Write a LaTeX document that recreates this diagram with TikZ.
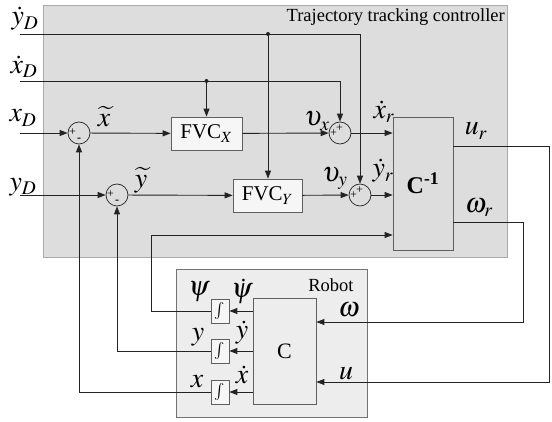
\documentclass[tikz,border=0pt]{standalone}
\usepackage{mathptmx}
\usepackage{graphicx}
\usepackage[no-math]{fontspec}
\setmainfont{Liberation Serif}
\usetikzlibrary{arrows.meta}
\definecolor{panelf}{RGB}{221,221,222}
\definecolor{panelb}{RGB}{170,170,170}
\definecolor{robotf}{RGB}{237,237,237}
\definecolor{robotb}{RGB}{115,115,115}
\definecolor{boxf}{RGB}{246,246,246}
\definecolor{boxb}{RGB}{95,95,95}
\definecolor{linec}{RGB}{35,35,35}
\newcommand{\mlab}[1]{\scalebox{1.12}{$#1$}}
\begin{document}
\begin{tikzpicture}[x=1pt,y=-1pt,
  ln/.style={draw=linec,line width=0.9pt},
  arr/.style={ln,-{Triangle[length=8pt,width=6pt]}},
  sumc/.style={circle,draw=linec,line width=0.7pt,minimum size=22pt,inner sep=0pt},
  blk/.style={rectangle,draw=boxb,line width=0.8pt,fill=boxf,inner sep=0pt},
  intb/.style={blk,minimum width=18pt,minimum height=24pt,font=\fontsize{17}{17}\selectfont},
  lab/.style={inner sep=0pt,font=\fontsize{24.88}{26}\selectfont},
  sgn/.style={inner sep=0pt,font=\fontsize{12}{12}\selectfont},
  dotn/.style={circle,fill=linec,minimum size=4pt,inner sep=0pt},
  ]
\useasboundingbox (0,0) rectangle (552,422);
% panels
\node[rectangle,fill=panelf,draw=panelb,line width=0.8pt,minimum width=464pt,minimum height=252pt] (ctrl) at (275,131) {};
\node[anchor=base east,inner sep=0pt,font=\fontsize{18.5}{20}\selectfont] (ttl) at (505,22) {Trajectory tracking controller};
\node[rectangle,fill=robotf,draw=robotb,line width=0.8pt,minimum width=191pt,minimum height=148pt] (robot) at (271.5,343) {};
\node[anchor=base,inner sep=0pt,font=\fontsize{18.5}{20}\selectfont] (rtl) at (331,292) {Robot};
% summing junctions
\node[sumc] (s1) at (79,133) {};
\node[sumc] (s2) at (117,195) {};
\node[sumc] (s3) at (340,133) {};
\node[sumc] (s4) at (360,195) {};
\node[sgn] at ([shift={(-6.5,-1)}]s1.center) {+};
\node[sgn] at ([shift={(0,7)}]s1.center) {\textbf{-}};
\node[sgn] at ([shift={(-6.5,-1)}]s2.center) {+};
\node[sgn] at ([shift={(0,7)}]s2.center) {\textbf{-}};
\node[sgn] at ([shift={(-6.5,0.5)}]s3.center) {+};
\node[sgn] at ([shift={(-0.5,-5)}]s3.center) {+};
\node[sgn] at ([shift={(-6.5,0.5)}]s4.center) {+};
\node[sgn] at ([shift={(-0.5,-5)}]s4.center) {+};
% blocks
\node[blk,minimum width=71pt,minimum height=33pt,font=\fontsize{21}{22}\selectfont] (fvcx) at (206.5,133.5) {FVC$_X$};
\node[blk,minimum width=69pt,minimum height=33pt,font=\fontsize{21}{22}\selectfont] (fvcy) at (267.5,195.5) {FVC$_Y$};
\node[rectangle,draw=boxb,line width=0.8pt,inner sep=0pt,minimum width=60pt,minimum height=133pt,font=\fontsize{24}{24}\selectfont] (cinv) at (423,183.5) {\textbf{C}\textsuperscript{\textbf{-1}}};
\node[rectangle,draw=boxb,line width=0.8pt,fill=robotf,inner sep=0pt,minimum width=63pt,minimum height=106pt,font=\fontsize{22}{22}\selectfont] (cblk) at (284.5,351) {C};
\node[intb] (ipsi) at (220,311) {$\int$};
\node[intb] (iy) at (220,351) {$\int$};
\node[intb] (ix) at (220,392) {$\int$};
% free ends and branch points
\coordinate (ydS) at (20,34);
\coordinate (xdS) at (20,81);
\coordinate (xS) at (20,133);
\coordinate (yS) at (20,195);
\node[dotn] (d1) at (268,34) {};
\node[dotn] (d2) at (206.5,81) {};
\coordinate (fb) at (151,235);
\coordinate (ur) at (549,146);
\coordinate (uu) at (549,382);
\coordinate (wr) at (523,222);
\coordinate (ww) at (523,322);
% connectors
\draw[arr] (ydS) -| (s4);
\draw[arr] (d1.center) -- (fvcy.north -| d1);
\draw[arr] (xdS) -| (s3);
\draw[arr] (d2.center) -- (fvcx.north);
\draw[arr] (xS) -- (s1);
\draw[arr] (s1) -- (fvcx);
\draw[arr] (fvcx) -- (s3);
\draw[arr] (s3) -- (s3 -| cinv.west);
\draw[arr] (yS) -- (s2);
\draw[arr] (s2) -- (fvcy);
\draw[arr] (fvcy) -- (s4);
\draw[arr] (s4) -- (s4 -| cinv.west);
\draw[arr] (cinv.east |- ur) -- (ur) -- (uu) -- (uu -| cblk.east);
\draw[arr] (cinv.east |- wr) -- (wr) -- (ww) -- (ww -| cblk.east);
\draw[arr] (ipsi.west) -| (fb) -- (fb -| cinv.west);
\draw[arr] (iy.west) -| (s2);
\draw[arr] (ix.west) -| (s1);
\draw[arr] (cblk.west |- ipsi) -- (ipsi.east);
\draw[arr] (cblk.west |- iy) -- (iy.east);
\draw[arr] (cblk.west |- ix) -- (ix.east);
% labels
\node[lab] (lydd) at (25,19) {\mlab{\dot y_D}};
\node[lab] (lxdd) at (24,67) {\mlab{\dot x_D}};
\node[lab] (lxd) at (23,118) {\mlab{x_D}};
\node[lab] (lyd) at (23,187) {\mlab{y_D}};
\node[lab] (lxt) at (104,117) {\mlab{\widetilde{x}}};
\node[lab] (lyt) at (141,180) {\mlab{\widetilde{y}}};
\node[lab] (lvx) at (317,121) {\mlab{\upsilon_x}};
\node[lab] (lxr) at (384,112) {\mlab{\dot x_r}};
\node[lab] (lvy) at (335,178) {\mlab{\upsilon_y}};
\node[lab] (lyr) at (383,171) {\mlab{\dot y_r}};
\node[lab] (lur) at (476,131) {\mlab{u_r}};
\node[lab] (lwr) at (479,208) {\mlab{\omega_r}};
\node[lab] (lpsi) at (199,292) {\mlab{\psi}};
\node[lab] (lpsid) at (242,291) {\mlab{\dot\psi}};
\node[lab] (ly) at (198,337) {\mlab{y}};
\node[lab] (lyd2) at (242,333) {\mlab{\dot y}};
\node[lab] (lx) at (197,382) {\mlab{x}};
\node[lab] (lxd2) at (242,375) {\mlab{\dot x}};
\node[lab] (lw) at (349,310) {\mlab{\omega}};
\node[lab] (lu) at (346,374) {\mlab{u}};
\end{tikzpicture}
\end{document}
